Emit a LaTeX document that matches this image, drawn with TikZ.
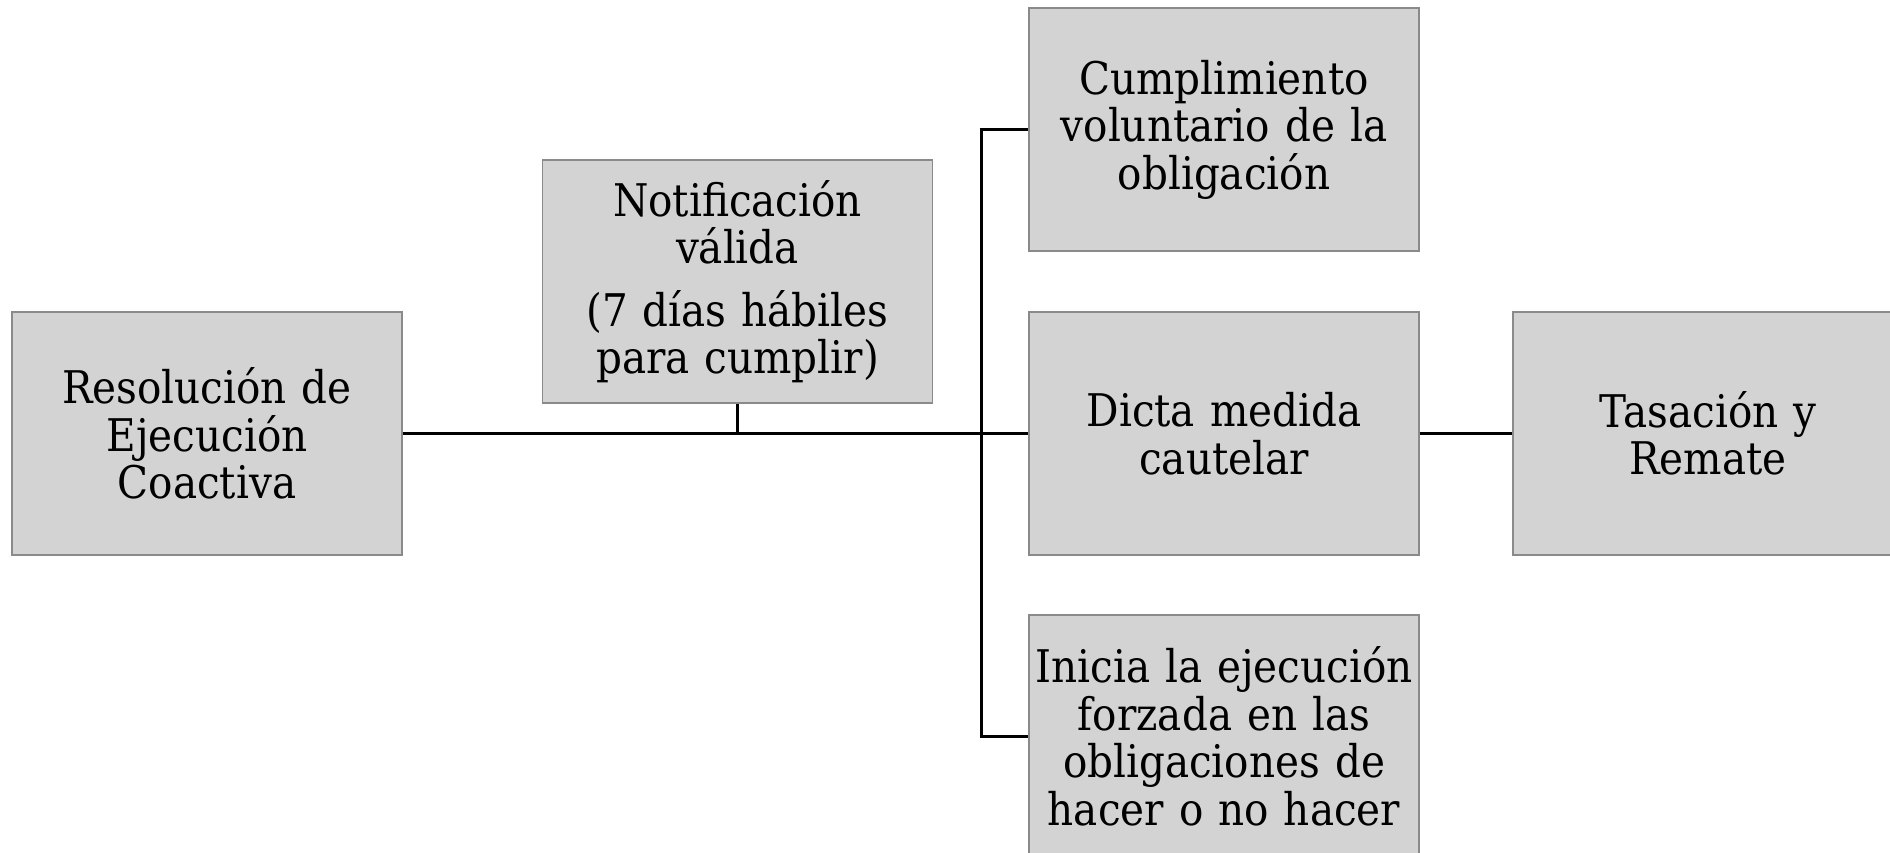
\documentclass[tikz,border=0pt]{standalone}
\usepackage{fontspec}
\newfontfamily\slab[FakeStretch=0.9]{DejaVu Serif}
\definecolor{boxfill}{HTML}{D3D3D3}
\definecolor{boxline}{HTML}{8A8A8A}
\tikzset{
  stepbox/.style={rectangle, draw=boxline, line width=0.6pt, fill=boxfill,
    minimum width=156pt, minimum height=97.2pt, inner sep=0pt,
    text width=154pt, align=center, font=\slab\fontsize{18}{19}\selectfont},
  link/.style={draw=black, line width=1.2pt}
}
\begin{document}
\begin{tikzpicture}[x=0.4pt, y=-0.4pt]
\path[use as bounding box, clip] (0,0) rectangle (1890,852);
\fill[white] (0,0) rectangle (1890,852);
\node[stepbox] (res) at (207,433.5) {Resolución de\\Ejecución\\Coactiva};
\node[stepbox] (not) at (737.5,281.5) {Notificación\\válida\\[6pt](7 días hábiles\\para cumplir)};
\node[stepbox] (cum) at (1224,129.5) {Cumplimiento\\voluntario de la\\obligación};
\node[stepbox] (dic) at (1224,433.5) {Dicta medida\\cautelar};
\node[stepbox] (ini) at (1224,736.5) {Inicia la ejecución\\forzada en las\\obligaciones de\\hacer o no hacer};
\node[stepbox] (tas) at (1708,433.5) {Tasación y\\Remate};
\coordinate (bus) at (981,433.5);
\draw[link] (res.east) -- (dic.west);
\draw[link] (not.south) -- (not.south |- res.east);
\draw[link] (cum.west) -- (bus |- cum.west) -- (bus |- ini.west) -- (ini.west);
\draw[link] (dic.east) -- (tas.west);
\end{tikzpicture}
\end{document}
